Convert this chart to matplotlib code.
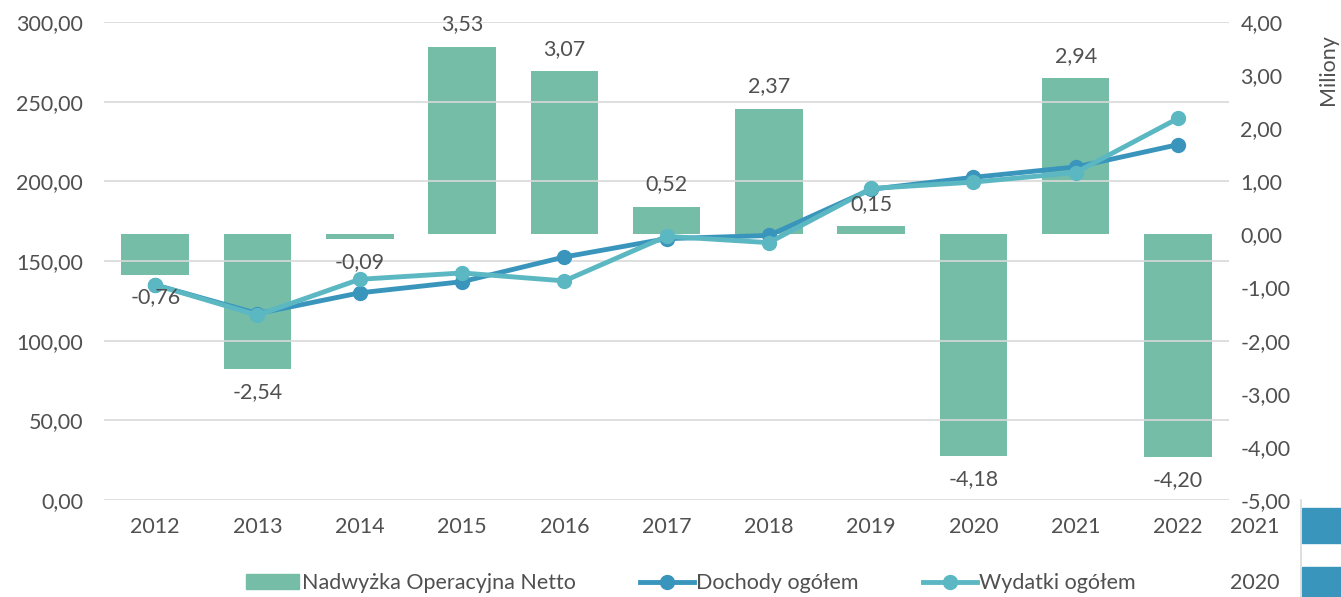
import matplotlib.pyplot as plt
from matplotlib.patches import Rectangle
from matplotlib.lines import Line2D

plt.rcParams['font.family'] = ['Lato', 'DejaVu Sans']

lata = ['2012', '2013', '2014', '2015', '2016', '2017', '2018', '2019', '2020', '2021', '2022']
nadwyzka = [-0.76, -2.54, -0.09, 3.53, 3.07, 0.52, 2.37, 0.15, -4.18, 2.94, -4.20]
dochody = [135.0, 117.0, 130.0, 137.0, 152.5, 164.0, 166.0, 195.0, 202.5, 209.0, 223.0]
wydatki = [135.0, 116.0, 138.5, 142.5, 137.5, 165.5, 161.5, 195.5, 199.5, 205.5, 239.5]

kolor_bar = '#75BDA7'
kolor_doch = '#3A95BD'
kolor_wyd = '#5BB8C3'
tekst = '#505050'
fs = 15.5

fig = plt.figure(figsize=(13.41, 5.97), dpi=100)
ax = fig.add_axes([0.0776, 0.1625, 0.839, 0.8007])
ax2 = ax.twinx()

x = list(range(len(lata)))

# słupki na osi prawej (miliony)
ax2.bar(x, nadwyzka, width=0.66, color=kolor_bar, zorder=2)

ax2.set_ylim(-5, 4)
ax2.set_yticks(range(-5, 5))
ax2.set_yticklabels([f'{v:.2f}'.replace('.', ',') for v in range(-5, 5)])

# linie na osi lewej
ax.set_zorder(ax2.get_zorder() + 1)
ax.patch.set_visible(False)
ax.plot(x, dochody, color=kolor_doch, lw=3.5, marker='o', ms=10, zorder=3)
ax.plot(x, wydatki, color=kolor_wyd, lw=3.5, marker='o', ms=10, zorder=4)

# etykiety słupków (nad liniami)
for xi, v in zip(x, nadwyzka):
    txt = f'{v:.2f}'.replace('.', ',')
    if v >= 0:
        ax.annotate(txt, (xi, v), xycoords=ax2.transData, xytext=(0, 9),
                    textcoords='offset points', ha='center', va='bottom',
                    fontsize=fs, color=tekst, zorder=6)
    else:
        ax.annotate(txt, (xi, v), xycoords=ax2.transData, xytext=(0, -9),
                    textcoords='offset points', ha='center', va='top',
                    fontsize=fs, color=tekst, zorder=6)

ax.set_ylim(0, 300)
ax.set_yticks(range(0, 301, 50))
ax.set_yticklabels([f'{v:.2f}'.replace('.', ',') for v in range(0, 301, 50)])
ax.set_xlim(-0.5, len(lata) - 0.5)
ax.set_xticks(x)
ax.set_xticklabels(lata)

for a in (ax, ax2):
    for s in a.spines.values():
        s.set_visible(False)
    a.tick_params(length=0, labelsize=fs, colors=tekst)
ax.tick_params(axis='x', pad=12)
ax.tick_params(axis='y', pad=15)
ax2.tick_params(axis='y', pad=8)

# siatka pozioma
for v in range(0, 301, 50):
    ax.axhline(v, color='#D9D9D9', lw=1.2, zorder=0)

fig.text(1328 / 1341, 1 - 70 / 597, 'Miliony', rotation=90, ha='center', va='center',
         fontsize=fs, color=tekst)

handles = [Rectangle((0, 0), 1, 1, color=kolor_bar),
           Line2D([], [], color=kolor_doch, lw=3.5, marker='o', ms=10),
           Line2D([], [], color=kolor_wyd, lw=3.5, marker='o', ms=10)]
fig.legend(handles, ['Nadwyżka Operacyjna Netto', 'Dochody ogółem', 'Wydatki ogółem'],
           loc='center', bbox_to_anchor=(0.515, 0.023), ncol=3, frameon=False,
           fontsize=fs, labelcolor=tekst, columnspacing=3.0, handlelength=2.5,
           handletextpad=0.1)

# fragment sąsiedniego wykresu w prawym dolnym rogu
fig.text(1255 / 1341, 1 - 527 / 597, '2021', ha='center', va='center', fontsize=fs, color=tekst)
fig.text(1255 / 1341, 1 - 583 / 597, '2020', ha='center', va='center', fontsize=fs, color=tekst)
fig.add_artist(Rectangle((1302 / 1341, 1 - 543 / 597), 39 / 1341, 35 / 597,
                         transform=fig.transFigure, color='#3A95BD'))
fig.add_artist(Rectangle((1302 / 1341, 0), 39 / 1341, 30 / 597,
                         transform=fig.transFigure, color='#3A95BD'))
fig.add_artist(Line2D([1300.5 / 1341, 1300.5 / 1341], [0, 1 - 500 / 597],
                      transform=fig.transFigure, color='#D9D9D9', lw=1.2))

fig.savefig('out.png', dpi=100)
